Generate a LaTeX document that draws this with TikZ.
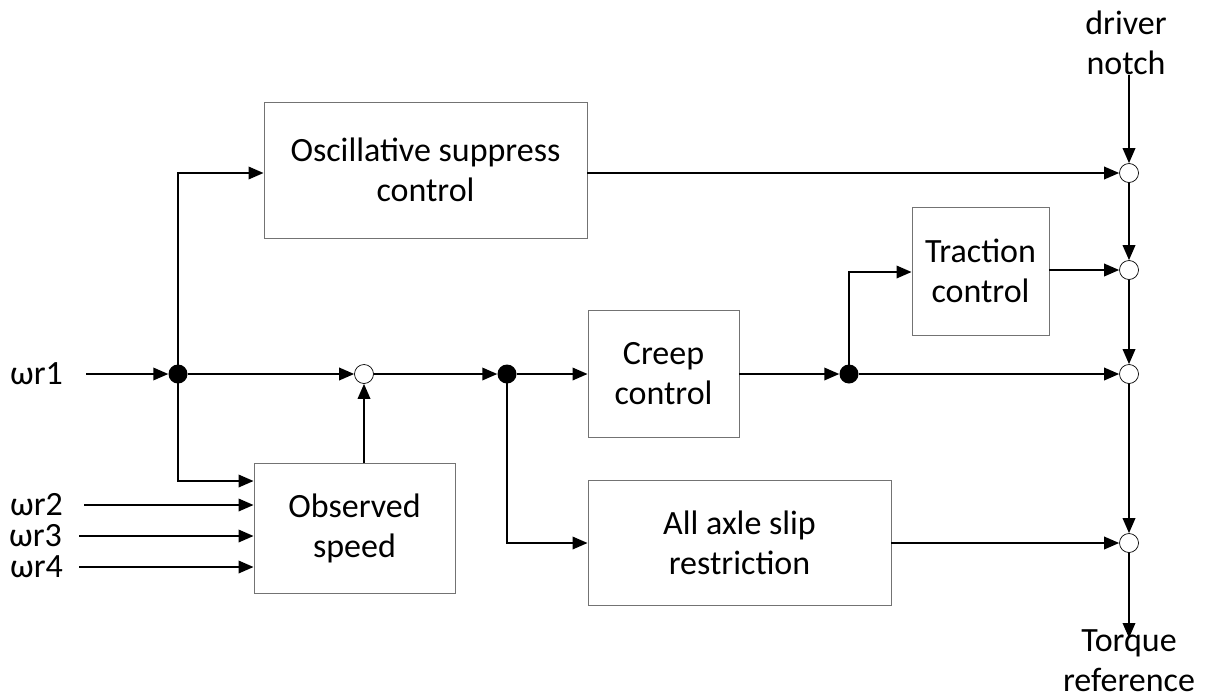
\documentclass[tikz,border=0pt]{standalone}
\usepackage{fontspec}
\setmainfont{Carlito}
\usetikzlibrary{arrows.meta}
\begin{document}
\begin{tikzpicture}[x=1pt,y=-1pt,
  txt/.style={font=\fontsize{34}{40}\selectfont, align=center, inner sep=0},
  blk/.style={txt, draw=black!55, line width=0.9pt, fill=white},
  sig/.style={line width=1.9pt, -{Triangle[length=15pt,width=12.5pt]}},
  dotn/.style={circle, fill=black, inner sep=0, minimum size=19pt},
  sumn/.style={circle, draw=black, fill=white, inner sep=0, minimum size=19pt, line width=0.7pt}]
\useasboundingbox (0,0) rectangle (1207,699);
% blocks
\node[blk, minimum width=323pt, minimum height=136pt] (osc) at (425.5,170) {Oscillative suppress\\control};
\node[blk, minimum width=137pt, minimum height=128pt] (trac) at (980.5,271) {Traction\\control};
\node[blk, minimum width=151pt, minimum height=127pt] (creep) at (663.5,373.5) {Creep\\control};
\node[blk, minimum width=201pt, minimum height=130pt] (obs) at (354.5,528) {Observed\\speed};
\node[blk, minimum width=303pt, minimum height=125pt] (slip) at (739.5,542.5) {All axle slip\\restriction};
% junctions
\node[dotn] (d1) at (178,374) {};
\node[dotn] (d2) at (507,374) {};
\node[dotn] (d3) at (849,374) {};
\node[sumn] (s0) at (364,374) {};
\node[sumn] (s1) at (1129,173) {};
\node[sumn] (s2) at (1129,270) {};
\node[sumn] (s3) at (1129,374) {};
\node[sumn] (s4) at (1129,543) {};
% labels
\node[txt, anchor=west] (w1) at (10,374) {ωr1};
\node[txt, anchor=west] (w2) at (10,505) {ωr2};
\node[txt, anchor=west] (w3) at (9,536) {ωr3};
\node[txt, anchor=west] (w4) at (10,567) {ωr4};
\node[txt] (dn) at (1126,43) {driver\\notch};
\node[txt] (tr) at (1129,661) {Torque\\reference};
\coordinate (w1e) at (86,374);
\coordinate (w2e) at (84,505);
\coordinate (w3e) at (79,536);
\coordinate (w4e) at (79,567);
\coordinate (dns) at (1129,75);
\coordinate (tre) at (1129,638);
\coordinate (obst) at (364,463);
% connectors
\draw[sig] (w1e) -- (d1);
\draw[sig] (w2e) -- (w2e -| obs.west);
\draw[sig] (w3e) -- (w3e -| obs.west);
\draw[sig] (w4e) -- (w4e -| obs.west);
\draw[sig] (d1.center) |- (osc.west |- 0,173);
\draw[sig] (d1.center) |- (obs.west |- 0,481);
\draw[sig] (d1) -- (s0);
\draw[sig] (obst) -- (s0);
\draw[sig] (s0) -- (d2);
\draw[sig] (d2) -- (creep.west |- d2);
\draw[sig] (d2.center) |- (slip.west |- 0,543);
\draw[sig] (creep.east |- d3) -- (d3);
\draw[sig] (d3.center) |- (trac.west |- 0,272);
\draw[sig] (d3) -- (s3);
\draw[sig] (osc.east |- s1) -- (s1);
\draw[sig] (trac.east |- s2) -- (s2);
\draw[sig] (slip.east |- s4) -- (s4);
\draw[sig] (dns) -- (s1);
\draw[sig] (s1) -- (s2);
\draw[sig] (s2) -- (s3);
\draw[sig] (s3) -- (s4);
\draw[sig] (s4) -- (tre);
\end{tikzpicture}
\end{document}
